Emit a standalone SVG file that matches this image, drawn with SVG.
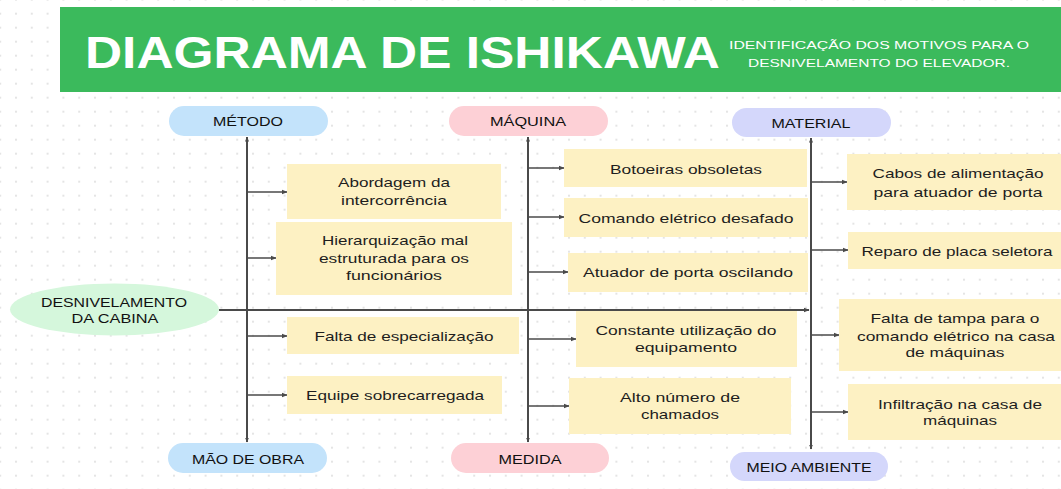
<svg xmlns="http://www.w3.org/2000/svg" width="1061" height="489" viewBox="0 0 1061 489">
<style>
.t{font-family:"Liberation Sans",Arial,sans-serif;font-size:13px;fill:#1e1e1e;text-anchor:middle}
.h{font-family:"Liberation Sans",Arial,sans-serif;font-size:13px;fill:#111;text-anchor:middle}
.box{fill:#fdf1c3}
.blue{fill:#c3e3fb}
.pink{fill:#fdd0d6}
.lav{fill:#d4d7fb}
.ln{stroke:#4a4a4a;stroke-width:2;fill:none}
.br{stroke:#4a4a4a;stroke-width:1.5;fill:none;marker-end:url(#ah)}
</style>
<defs>
<pattern id="dots" x="15" y="12.7" width="15.8" height="14" patternUnits="userSpaceOnUse">
<circle cx="0.9" cy="0.9" r="1.2" fill="#e4e4e4"/>
</pattern>
<marker id="ah" viewBox="0 0 10 10" refX="9" refY="5" markerWidth="6" markerHeight="6" markerUnits="userSpaceOnUse" orient="auto">
<path d="M0,1 L10,5 L0,9 Z" fill="#4a4a4a"/>
</marker>
<marker id="ahs" viewBox="0 0 10 10" refX="9" refY="5" markerWidth="5" markerHeight="5" markerUnits="userSpaceOnUse" orient="auto">
<path d="M0,1 L10,5 L0,9 Z" fill="#4a4a4a"/>
</marker>
</defs>
<rect width="1061" height="489" fill="#ffffff"/>
<rect width="1061" height="489" fill="url(#dots)"/>

<g id="header">
<rect x="60" y="7" width="1001" height="85" fill="#3bba5c"/>
<text x="85" y="68" font-family="Liberation Sans,Arial,sans-serif" font-weight="bold" font-size="44" fill="#ffffff" textLength="635" lengthAdjust="spacingAndGlyphs">DIAGRAMA DE ISHIKAWA</text>
<text x="879" y="49" font-family="Liberation Sans,Arial,sans-serif" font-size="11.5" fill="#ffffff" text-anchor="middle" textLength="300" lengthAdjust="spacingAndGlyphs">IDENTIFICAÇÃO DOS MOTIVOS PARA O</text>
<text x="879" y="67" font-family="Liberation Sans,Arial,sans-serif" font-size="11.5" fill="#ffffff" text-anchor="middle" textLength="262" lengthAdjust="spacingAndGlyphs">DESNIVELAMENTO DO ELEVADOR.</text>
</g>

<g id="connectors">
<line class="ln" x1="219" y1="310" x2="809" y2="310" style="marker-end:url(#ah)"/>
<line class="ln" x1="247" y1="300" x2="247" y2="137" style="marker-end:url(#ahs)"/>
<line class="ln" x1="247" y1="300" x2="247" y2="442" style="marker-end:url(#ahs)"/>
<line class="ln" x1="528" y1="300" x2="528" y2="137" style="marker-end:url(#ahs)"/>
<line class="ln" x1="528" y1="300" x2="528" y2="442" style="marker-end:url(#ahs)"/>
<line class="ln" x1="811" y1="300" x2="811" y2="138" style="marker-end:url(#ahs)"/>
<line class="ln" x1="811" y1="300" x2="811" y2="449" style="marker-end:url(#ahs)"/>
<line class="br" x1="247" y1="192" x2="287" y2="192"/>
<line class="br" x1="247" y1="258" x2="276" y2="258"/>
<line class="br" x1="247" y1="336" x2="287" y2="336"/>
<line class="br" x1="247" y1="395" x2="287" y2="395"/>
<line class="br" x1="528" y1="168" x2="564" y2="168"/>
<line class="br" x1="528" y1="217" x2="564" y2="217"/>
<line class="br" x1="528" y1="272" x2="568" y2="272"/>
<line class="br" x1="528" y1="339" x2="576" y2="339"/>
<line class="br" x1="528" y1="406" x2="569" y2="406"/>
<line class="br" x1="811" y1="182" x2="847" y2="182"/>
<line class="br" x1="811" y1="250" x2="848" y2="250"/>
<line class="br" x1="811" y1="335" x2="839" y2="335"/>
<line class="br" x1="811" y1="412" x2="848" y2="412"/>
</g>

<g id="effect">
<ellipse cx="114.5" cy="309.5" rx="104.5" ry="26" fill="#d5f7dc"/>
<text class="h" x="114" y="307" textLength="146" lengthAdjust="spacingAndGlyphs">DESNIVELAMENTO</text>
<text class="h" x="115" y="323" textLength="87" lengthAdjust="spacingAndGlyphs">DA CABINA</text>
</g>

<g id="cat-metodo"><rect class="blue" x="169" y="106" width="159" height="30" rx="15"/><text class="h" x="248" y="126" textLength="70" lengthAdjust="spacingAndGlyphs">MÉTODO</text></g>
<g id="cat-maodeobra"><rect class="blue" x="168" y="443" width="159" height="30" rx="15"/><text class="h" x="248" y="464" textLength="112" lengthAdjust="spacingAndGlyphs">MÃO DE OBRA</text></g>
<g id="cat-maquina"><rect class="pink" x="449" y="106" width="159" height="30" rx="15"/><text class="h" x="528" y="126" textLength="76" lengthAdjust="spacingAndGlyphs">MÁQUINA</text></g>
<g id="cat-medida"><rect class="pink" x="451" y="443" width="158" height="30" rx="15"/><text class="h" x="530" y="464" textLength="63" lengthAdjust="spacingAndGlyphs">MEDIDA</text></g>
<g id="cat-material"><rect class="lav" x="732" y="108" width="159" height="29" rx="14.5"/><text class="h" x="811" y="128" textLength="79" lengthAdjust="spacingAndGlyphs">MATERIAL</text></g>
<g id="cat-meioambiente"><rect class="lav" x="730" y="452" width="158" height="29" rx="14.5"/><text class="h" x="809" y="472" textLength="125" lengthAdjust="spacingAndGlyphs">MEIO AMBIENTE</text></g>

<g id="c-abordagem"><rect class="box" x="287" y="164" width="214" height="55"/><text class="t" x="394" y="187" textLength="112" lengthAdjust="spacingAndGlyphs">Abordagem da</text><text class="t" x="394" y="205" textLength="106" lengthAdjust="spacingAndGlyphs">intercorrência</text></g>
<g id="c-hierarquizacao"><rect class="box" x="276" y="222" width="236" height="73"/><text class="t" x="395" y="245" textLength="146" lengthAdjust="spacingAndGlyphs">Hierarquização mal</text><text class="t" x="394" y="263" textLength="150" lengthAdjust="spacingAndGlyphs">estruturada para os</text><text class="t" x="394" y="280" textLength="96" lengthAdjust="spacingAndGlyphs">funcionários</text></g>
<g id="c-especializacao"><rect class="box" x="287" y="317" width="232" height="37"/><text class="t" x="404" y="341" textLength="179" lengthAdjust="spacingAndGlyphs">Falta de especialização</text></g>
<g id="c-equipe"><rect class="box" x="287" y="376" width="215" height="38"/><text class="t" x="395" y="400" textLength="178" lengthAdjust="spacingAndGlyphs">Equipe sobrecarregada</text></g>

<g id="c-botoeiras"><rect class="box" x="564" y="149" width="243" height="38"/><text class="t" x="686" y="174" textLength="152" lengthAdjust="spacingAndGlyphs">Botoeiras obsoletas</text></g>
<g id="c-comando"><rect class="box" x="564" y="198" width="244" height="39"/><text class="t" x="686" y="223" textLength="215" lengthAdjust="spacingAndGlyphs">Comando elétrico desafado</text></g>
<g id="c-atuador"><rect class="box" x="568" y="253" width="240" height="39"/><text class="t" x="688" y="277" textLength="210" lengthAdjust="spacingAndGlyphs">Atuador de porta oscilando</text></g>
<g id="c-constante"><rect class="box" x="576" y="311" width="221" height="56"/><text class="t" x="686" y="335" textLength="181" lengthAdjust="spacingAndGlyphs">Constante utilização do</text><text class="t" x="686" y="352" textLength="102" lengthAdjust="spacingAndGlyphs">equipamento</text></g>
<g id="c-chamados"><rect class="box" x="569" y="378" width="222" height="56"/><text class="t" x="680" y="402" textLength="120" lengthAdjust="spacingAndGlyphs">Alto número de</text><text class="t" x="680" y="419" textLength="78" lengthAdjust="spacingAndGlyphs">chamados</text></g>

<g id="c-cabos"><rect class="box" x="847" y="154" width="214" height="56"/><text class="t" x="958" y="178" textLength="171" lengthAdjust="spacingAndGlyphs">Cabos de alimentação</text><text class="t" x="958" y="197" textLength="169" lengthAdjust="spacingAndGlyphs">para atuador de porta</text></g>
<g id="c-reparo"><rect class="box" x="848" y="232" width="213" height="37"/><text class="t" x="957" y="256" textLength="191" lengthAdjust="spacingAndGlyphs">Reparo de placa seletora</text></g>
<g id="c-tampa"><rect class="box" x="839" y="299" width="222" height="72"/><text class="t" x="955" y="323" textLength="169" lengthAdjust="spacingAndGlyphs">Falta de tampa para o</text><text class="t" x="956" y="341" textLength="198" lengthAdjust="spacingAndGlyphs">comando elétrico na casa</text><text class="t" x="955" y="357" textLength="99" lengthAdjust="spacingAndGlyphs">de máquinas</text></g>
<g id="c-infiltracao"><rect class="box" x="848" y="384" width="213" height="56"/><text class="t" x="960" y="409" textLength="164" lengthAdjust="spacingAndGlyphs">Infiltração na casa de</text><text class="t" x="960" y="425" textLength="74" lengthAdjust="spacingAndGlyphs">máquinas</text></g>
</svg>
